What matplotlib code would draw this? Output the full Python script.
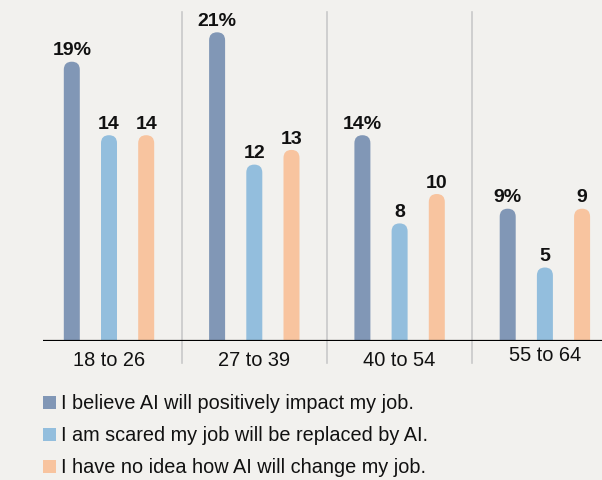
import matplotlib.pyplot as plt
from matplotlib.patches import FancyBboxPatch, Rectangle

# survey results by age group
groups = ["18 to 26", "27 to 39", "40 to 54", "55 to 64"]
positive = [19, 21, 14, 9]
scared = [14, 12, 8, 5]
no_idea = [14, 13, 10, 9]
series_labels = [
    "I believe AI will positively impact my job.",
    "I am scared my job will be replaced by AI.",
    "I have no idea how AI will change my job.",
]
colors = ["#8197B6", "#93BEDD", "#F8C49F"]
bg = "#F2F1EE"

sans = ["Liberation Sans", "DejaVu Sans"]
W, H = 602, 481

fig = plt.figure(figsize=(W / 100, H / 100), dpi=100, facecolor=bg)
ax = fig.add_axes([43 / W, 1 - 342 / H, 559 / W, 329 / H])
ax.set_facecolor(bg)

x_per_px = 1 / 145.3
y_per_px = 1 / 14.7
ax.set_xlim(-66 * x_per_px, 493 * x_per_px)
ax.set_ylim(0, 329 * y_per_px)

width = 16 * x_per_px
offsets = [-0.256, 0.0, 0.256]
aspect = y_per_px / x_per_px

for s, (vals, col) in enumerate(zip([positive, scared, no_idea], colors)):
    for i, v in enumerate(vals):
        x = i + offsets[s]
        box = FancyBboxPatch(
            (x - width / 2, -2), width, v + 2,
            boxstyle=f"round,pad=0,rounding_size={width / 2}",
            mutation_aspect=aspect, fc=col, ec="none", zorder=2,
        )
        ax.add_patch(box)
        label = f"{v}%" if s == 0 else f"{v}"
        ax.annotate(label, (x, v), xytext=(0, 5.2), textcoords="offset points",
                    ha="center", va="baseline", fontsize=14,
                    fontweight="bold", family=sans, color="#111111")

# group separators
for sep in [0.5, 1.5, 2.5]:
    ax.plot([sep, sep], [-22 * y_per_px, 329 * y_per_px], color="#C9C9C9",
            lw=1.2, clip_on=False, zorder=1)

ax.axhline(0, color="black", lw=1.6, zorder=3)

for i, g in enumerate(groups):
    dy = -13.7 if i == 3 else -17.3
    ax.annotate(g, (i, 0), xytext=(0, dy), textcoords="offset points",
                ha="center", va="baseline", fontsize=14.4, family=sans,
                color="#111111", annotation_clip=False)

for side in ax.spines.values():
    side.set_visible(False)
ax.set_xticks([])
ax.set_yticks([])

# legend: colour square and text per series
for k, (lab, col) in enumerate(zip(series_labels, colors)):
    cy = 403 + 32 * k
    fig.patches.append(Rectangle((43 / W, 1 - (cy + 6.5) / H), 13 / W, 13 / H,
                                 transform=fig.transFigure, fc=col, ec="none"))
    fig.text(61 / W, 1 - (cy + 6) / H, lab, ha="left", va="baseline",
             fontsize=14.3, family=sans, color="#111111")

fig.savefig("out.png", dpi=100, facecolor=bg)
